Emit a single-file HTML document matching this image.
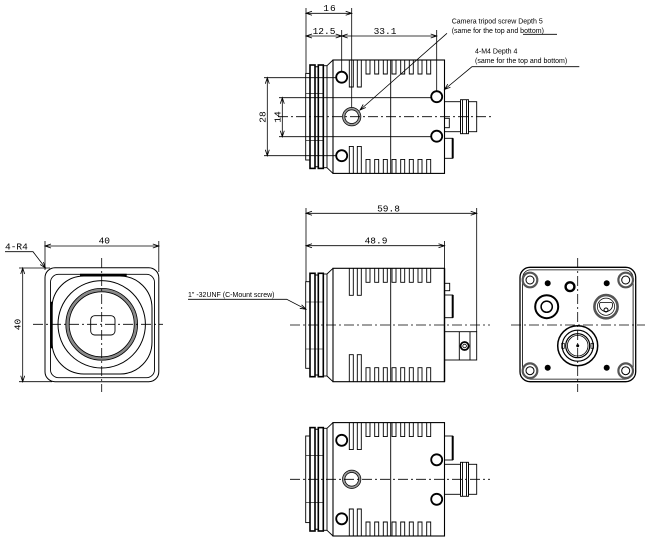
<!DOCTYPE html>
<html><head><meta charset="utf-8">
<style>
html,body{margin:0;padding:0;background:#fff;}
svg{display:block;}
.t{font-family:"Liberation Sans",sans-serif;font-size:7px;fill:#000;}
.d{font-family:"Liberation Mono",monospace;font-size:9.5px;fill:#000;}
</style></head><body>
<svg width="650" height="542" viewBox="0 0 650 542" xmlns="http://www.w3.org/2000/svg">
<defs>
<g id="fins" fill="none" stroke="#000" stroke-width="0.9">
<path d="M349.3,0V27H353.3V0M357.3,0V27H361.3V0M366,0V14H370V0M374.7,0V14H378.7V0M383.3,0V14H387.3V0M392,0V14H396V0M400.7,0V14H404.7V0M409.3,0V14H413.3V0M418,0V14H422V0M426.7,0V14H430.7V0"/>
</g>
<g id="cam" fill="none" stroke="#000">
  <rect x="305.7" y="-43.3" width="4.3" height="86.6" stroke-width="0.9"/>
  <rect x="310" y="-51.7" width="5" height="103.4" stroke-width="1.6"/>
  <path d="M315,-50H318.3M315,50H318.3" stroke-width="1"/>
  <rect x="318.3" y="-51.7" width="5" height="103.4" stroke-width="1.6"/>
  <rect x="323.3" y="-51" width="3.7" height="102" stroke-width="0.9"/>
  <path d="M327,-51L333,-56.7M327,51L333,56.7" stroke-width="0.9"/>
  <path d="M306,-23H323.3M306,24H323.3" stroke-width="0.6"/>
  <rect x="333" y="-56.7" width="111.5" height="113.4" stroke-width="1.1"/>
  <path d="M390.7,-56.7V56.7" stroke-width="0.9"/>
  <use href="#fins" transform="translate(0,-56.7)"/>
  <use href="#fins" transform="translate(0,56.7) scale(1,-1)"/>
</g>
<g id="holes" fill="none" stroke="#000">
 <circle cx="341.7" cy="-39.5" r="5.5" stroke-width="1.8"/>
 <circle cx="341.7" cy="39" r="5.5" stroke-width="1.8"/>
 <circle cx="436.7" cy="-20" r="5.5" stroke-width="1.8"/>
 <circle cx="436.7" cy="19.5" r="5.5" stroke-width="1.8"/>
 <circle cx="351.7" cy="0" r="8" stroke="#999" stroke-width="2.6"/>
 <circle cx="351.7" cy="0" r="9.2" stroke-width="0.7"/>
 <circle cx="351.7" cy="0" r="6.8" stroke-width="0.7"/>
</g>
<g id="conn" fill="none" stroke="#000" stroke-width="0.9">
 <rect x="444.5" y="-15" width="16" height="30"/>
 <rect x="460.5" y="-17" width="8" height="34"/>
 <rect x="468.5" y="-15" width="8.2" height="30"/>
 <path d="M462.5,-17V17M466.5,-17V17"/>
</g>
<clipPath id="cp"><rect x="50.5" y="274.3" width="104" height="103.4" rx="8"/></clipPath>
</defs>

<!-- ================= TOP VIEW ================= -->
<g transform="translate(0,116.7)">
 <use href="#cam"/>
 <use href="#holes"/>
 <use href="#conn"/>
 <g fill="none" stroke="#000" stroke-width="0.9">
  <rect x="444.5" y="1.6" width="4.8" height="9.4"/>
  <rect x="444.5" y="21.6" width="8.2" height="20"/>
  <path d="M452.7,21.6V41.6" stroke-width="2"/>
 </g>
</g>
<g fill="none" stroke="#000" stroke-width="0.8">
 <!-- centerline -->
 <path d="M278,116.7H492" stroke-dasharray="10 3 2 3"/>
 <!-- extension lines -->
 <path d="M306,8V73M351.7,8V107.5M341.7,30V71.5M436.7,30V91"/>
 <path d="M264,77.7H336.5M264,155.7H336.5M279,97.7H431M279,136.7H431"/>
 <!-- dim 16 -->
 <path d="M306,13.3H351.7M312,11.3L306,13.3L312,15.3M345.7,11.3L351.7,13.3L345.7,15.3"/>
 <!-- dim 12.5 / 33.1 -->
 <path d="M306,36H436.7M312,34L306,36L312,38M335.7,34L341.7,36L335.7,38M347.7,34L341.7,36L347.7,38M430.7,34L436.7,36L430.7,38"/>
 <!-- dim 28 -->
 <path d="M267.3,77.7V155.7M265.3,83.7L267.3,77.7L269.3,83.7M265.3,149.7L267.3,155.7L269.3,149.7"/>
 <!-- dim 14 -->
 <path d="M282.3,97.7V136.7M280.3,103.7L282.3,97.7L284.3,103.7M280.3,130.7L282.3,136.7L284.3,130.7"/>
 <!-- leaders -->
 <path d="M360,110L447,33.3M365.8,107.5L360,110L363.2,104.5"/>
 <path d="M523,34.3H557"/>
 <path d="M444.5,89.5L472,66.7H579.3M450.4,87.2L444.5,89.5L447.8,84.1"/>
</g>
<text class="d" x="330" y="11" text-anchor="middle" letter-spacing="1">16</text>
<text class="d" x="324" y="34" text-anchor="middle">12.5</text>
<text class="d" x="385" y="34" text-anchor="middle">33.1</text>
<text class="d" transform="translate(265.5,117) rotate(-90)" text-anchor="middle">28</text>
<text class="d" transform="translate(280.5,117) rotate(-90)" text-anchor="middle">14</text>
<text class="t" x="451.7" y="23.3">Camera tripod screw Depth 5</text>
<text class="t" x="451.7" y="33">(same for the top and bottom)</text>
<text class="t" x="475" y="53.5">4-M4 Depth 4</text>
<text class="t" x="475" y="63">(same for the top and bottom)</text>

<!-- ================= MIDDLE SIDE VIEW ================= -->
<g transform="translate(0,325)">
 <use href="#cam"/>
</g>
<g fill="none" stroke="#000" stroke-width="0.9">
 <path d="M444.5,268.3V381.7" stroke-width="1.4"/>
 <rect x="444.5" y="283.3" width="5.2" height="7.4"/>
 <rect x="444.5" y="295" width="8.2" height="22.7"/>
 <path d="M452.7,295V317.7" stroke-width="2"/>
 <rect x="444.5" y="331.7" width="32.2" height="28.3"/>
 <path d="M459.3,331.7V360M470,331.7V360"/>
 <circle cx="464.6" cy="346" r="4" stroke-width="1.8"/>
 <circle cx="464.6" cy="346" r="1.8" stroke-width="0.8"/>
</g>
<g fill="none" stroke="#000" stroke-width="0.8">
 <path d="M290,325H490" stroke-dasharray="10 3 2 3"/>
 <path d="M306,208V281.7M444.5,241V268M476.7,208V331.7"/>
 <path d="M306,213.3H476.7M312,211.3L306,213.3L312,215.3M470.7,211.3L476.7,213.3L470.7,215.3"/>
 <path d="M306,245.7H444.5M312,243.7L306,245.7L312,247.7M438.5,243.7L444.5,245.7L438.5,247.7"/>
 <path d="M188,299.3H286.7L306,309.3M301.6,304.8L306,309.3L299.8,308.3"/>
</g>
<text class="d" x="388.5" y="211.5" text-anchor="middle">59.8</text>
<text class="d" x="376" y="243.5" text-anchor="middle">48.9</text>
<text class="t" x="188" y="297">1" -32UNF (C-Mount screw)</text>

<!-- ================= BOTTOM VIEW ================= -->
<g transform="translate(0,479.3) scale(1,-1)">
 <use href="#cam"/>
 <use href="#holes"/>
 <use href="#conn"/>
 <g fill="none" stroke="#000" stroke-width="0.9">
  <rect x="444.5" y="19.3" width="8.2" height="24"/>
  <path d="M452.7,19.3V43.3" stroke-width="2"/>
 </g>
</g>
<path d="M290,479.3H490" fill="none" stroke="#000" stroke-width="0.8" stroke-dasharray="10 3 2 3"/>

<!-- ================= FRONT VIEW ================= -->
<g fill="none" stroke="#000">
 <rect x="45" y="267.7" width="113.8" height="114" rx="10" stroke-width="1"/>
 <rect x="50.5" y="274.3" width="104" height="103.4" rx="8" stroke-width="0.9"/>
 <rect x="52" y="276" width="100" height="98" rx="32" stroke-width="1" clip-path="url(#cp)"/>
 <path d="M80,275H126.7M51.5,301.7V348.3" stroke-width="2.4"/>
 <circle cx="101.7" cy="324.3" r="43.7" stroke-width="1"/>
 <circle cx="101.7" cy="324.3" r="34.2" stroke="#8a8a8a" stroke-width="3.3"/>
 <circle cx="101.7" cy="324.3" r="35.9" stroke-width="0.8"/>
 <circle cx="101.7" cy="324.3" r="32.5" stroke-width="0.8"/>
 <rect x="90.7" y="315.7" width="24.3" height="19.3" rx="4" stroke-width="0.9"/>
</g>
<g fill="none" stroke="#000" stroke-width="0.8">
 <path d="M33,324.3H163M101.7,258V392" stroke-dasharray="10 3 2 3"/>
 <path d="M45,241V270M158.8,241V272M19,268H50M19,381.7H52"/>
 <path d="M45,246H158.8M51,244L45,246L51,248M152.8,244L158.8,246L152.8,248"/>
 <path d="M22.7,268V381.7M20.7,274L22.7,268L24.7,274M20.7,375.7L22.7,381.7L24.7,375.7"/>
 <path d="M5,251.7H33L45.5,268M43.4,262L45.5,268L40.2,264.5"/>
</g>
<text class="d" x="104.3" y="243.5" text-anchor="middle">40</text>
<text class="d" transform="translate(20.5,324.5) rotate(-90)" text-anchor="middle">40</text>
<text class="d" x="5" y="249.5" font-size="8.5">4-R4</text>

<!-- ================= REAR VIEW ================= -->
<g fill="none" stroke="#000">
 <rect x="520" y="267.3" width="115.7" height="114.4" rx="10" stroke-width="1.3"/>
 <rect x="522.6" y="269.9" width="110.5" height="109.2" rx="8" stroke-width="0.8"/>
 <g stroke="#555" stroke-width="2.2">
  <circle cx="530" cy="280" r="7.3"/>
  <circle cx="625.7" cy="280" r="7.3"/>
  <circle cx="530" cy="370.7" r="7.3"/>
  <circle cx="625.7" cy="370.7" r="7.3"/>
 </g>
 <g stroke-width="1">
  <circle cx="530" cy="280" r="4"/>
  <circle cx="625.7" cy="280" r="4"/>
  <circle cx="530" cy="370.7" r="4"/>
  <circle cx="625.7" cy="370.7" r="4"/>
 </g>
 <g fill="#000" stroke="none">
  <circle cx="547.7" cy="283.3" r="3"/>
  <circle cx="606.7" cy="283.3" r="3"/>
  <circle cx="547.7" cy="367.7" r="3"/>
  <circle cx="606.7" cy="367.7" r="3"/>
 </g>
 <circle cx="570" cy="286.7" r="4.4" stroke-width="2.4"/>
 <circle cx="546.7" cy="306.7" r="11.5" stroke-width="2"/>
 <circle cx="546.7" cy="306.7" r="5.6" stroke-width="1.5"/>
 <circle cx="606" cy="306.7" r="11.6" stroke="#555" stroke-width="2.6"/>
 <circle cx="606" cy="306.7" r="8.6" stroke-width="0.7"/>
 <path d="M600,302.5H612M600,302.5A6.5,6.5 0 1 0 612,302.5" stroke-width="0.8"/>
 <circle cx="606" cy="310" r="2" stroke-width="1"/>
 <circle cx="577.7" cy="345.7" r="20" stroke-width="1.5"/>
 <circle cx="577.7" cy="345.7" r="15.5" stroke-width="1.2"/>
 <circle cx="577.7" cy="345.7" r="12" stroke-width="1.2"/>
 <circle cx="577.7" cy="345.7" r="10.3" stroke-width="0.8"/>
 <circle cx="577.7" cy="345.7" r="1.5" fill="#000" stroke="none"/>
 <rect x="561.7" y="343.3" width="2.6" height="5" stroke-width="0.7"/>
 <rect x="591" y="343.3" width="2.6" height="5" stroke-width="0.7"/>
</g>
<path d="M577.7,258V392M511,325H645" fill="none" stroke="#000" stroke-width="0.8" stroke-dasharray="10 3 2 3"/>
</svg>
</body></html>
